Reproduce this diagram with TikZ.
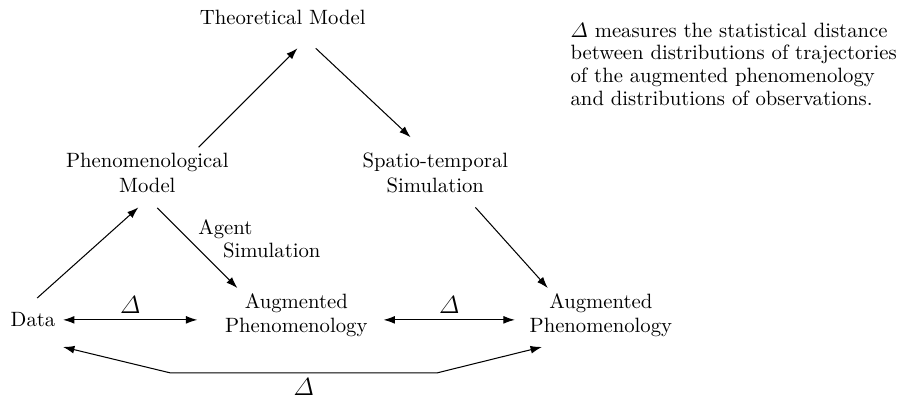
\documentclass[tikz,border=0pt]{standalone}
\usepackage{amsmath,amssymb}
\usepackage{tikz}
\usetikzlibrary{arrows.meta,calc}
\newcommand{\Dist}{\varDelta}
\tikzset{
  concept/.style={align=center, font=\normalsize},
  arrow/.style={-{Latex[length=5.5pt, width=3.8pt]}, line width=0.5pt},
  biarrow/.style={arrow, {Latex[length=5.5pt, width=3.8pt]}-{Latex[length=5.5pt, width=3.8pt]}},
  deltalabel/.style={font=\large, inner sep=3pt},
  note/.style={align=left, inner sep=0pt, font=\fontsize{10}{11}\selectfont},
}

\begin{document}
\begin{tikzpicture}
\useasboundingbox (0,0) rectangle (15.38,-6.76);

% ============================ models =================================
\node[concept] (theo) at (4.80,-0.29) {Theoretical Model};
\node[concept] (phen) at (2.50,-2.94) {Phenomenological\\Model};
\node[concept] (spat) at (7.39,-2.94) {Spatio-temporal\\Simulation};

% ============================ observations ===========================
\node[concept] (data) at (0.56,-5.43) {Data};
\node[concept] (aug1) at (5.03,-5.35) {Augmented\\Phenomenology};
\node[concept] (aug2) at (10.20,-5.35) {Augmented\\Phenomenology};

\node[note, anchor=west] (agent) at (3.36,-4.06) {Agent\\\hspace*{12pt}Simulation};
\node[note, anchor=west] (legend) at (9.68,-1.09)
  {$\Dist$ measures the statistical distance\\between distributions of trajectories\\of the augmented phenomenology\\and distributions of observations.};

% modelling chain
\draw[arrow] ($(data)+(0.07,0.37)$) -- ($(phen)+(-0.15,-0.58)$);
\draw[arrow] ($(phen)+(0.87,0.44)$) -- ($(theo)+(0.25,-0.53)$);
\draw[arrow] ($(theo)+(0.56,-0.53)$) -- ($(spat)+(-0.42,0.61)$);
\draw[arrow] ($(phen)+(0.17,-0.59)$) -- ($(aug1)+(-1.00,0.46)$);
\draw[arrow] ($(spat)+(0.68,-0.58)$) -- ($(aug2)+(-0.90,0.46)$);

% distances between trajectories and observations
\draw[biarrow] ($(data)+(0.51,0)$) -- node[deltalabel, above] {$\Dist$} ($(data -| aug1)+(-1.68,0)$);
\draw[biarrow] ($(data -| aug1)+(1.48,0)$) -- node[deltalabel, above] {$\Dist$} ($(data -| aug2)+(-1.46,0)$);
\draw[biarrow] ($(data)+(0.51,-0.46)$) -- ++(1.82,-0.44)
  -- node[deltalabel, below, inner sep=1.5pt, yshift=-1pt] {$\Dist$} ++(4.53,0) -- ($(aug2)+(-1.00,-0.54)$);

\end{tikzpicture}
\end{document}
